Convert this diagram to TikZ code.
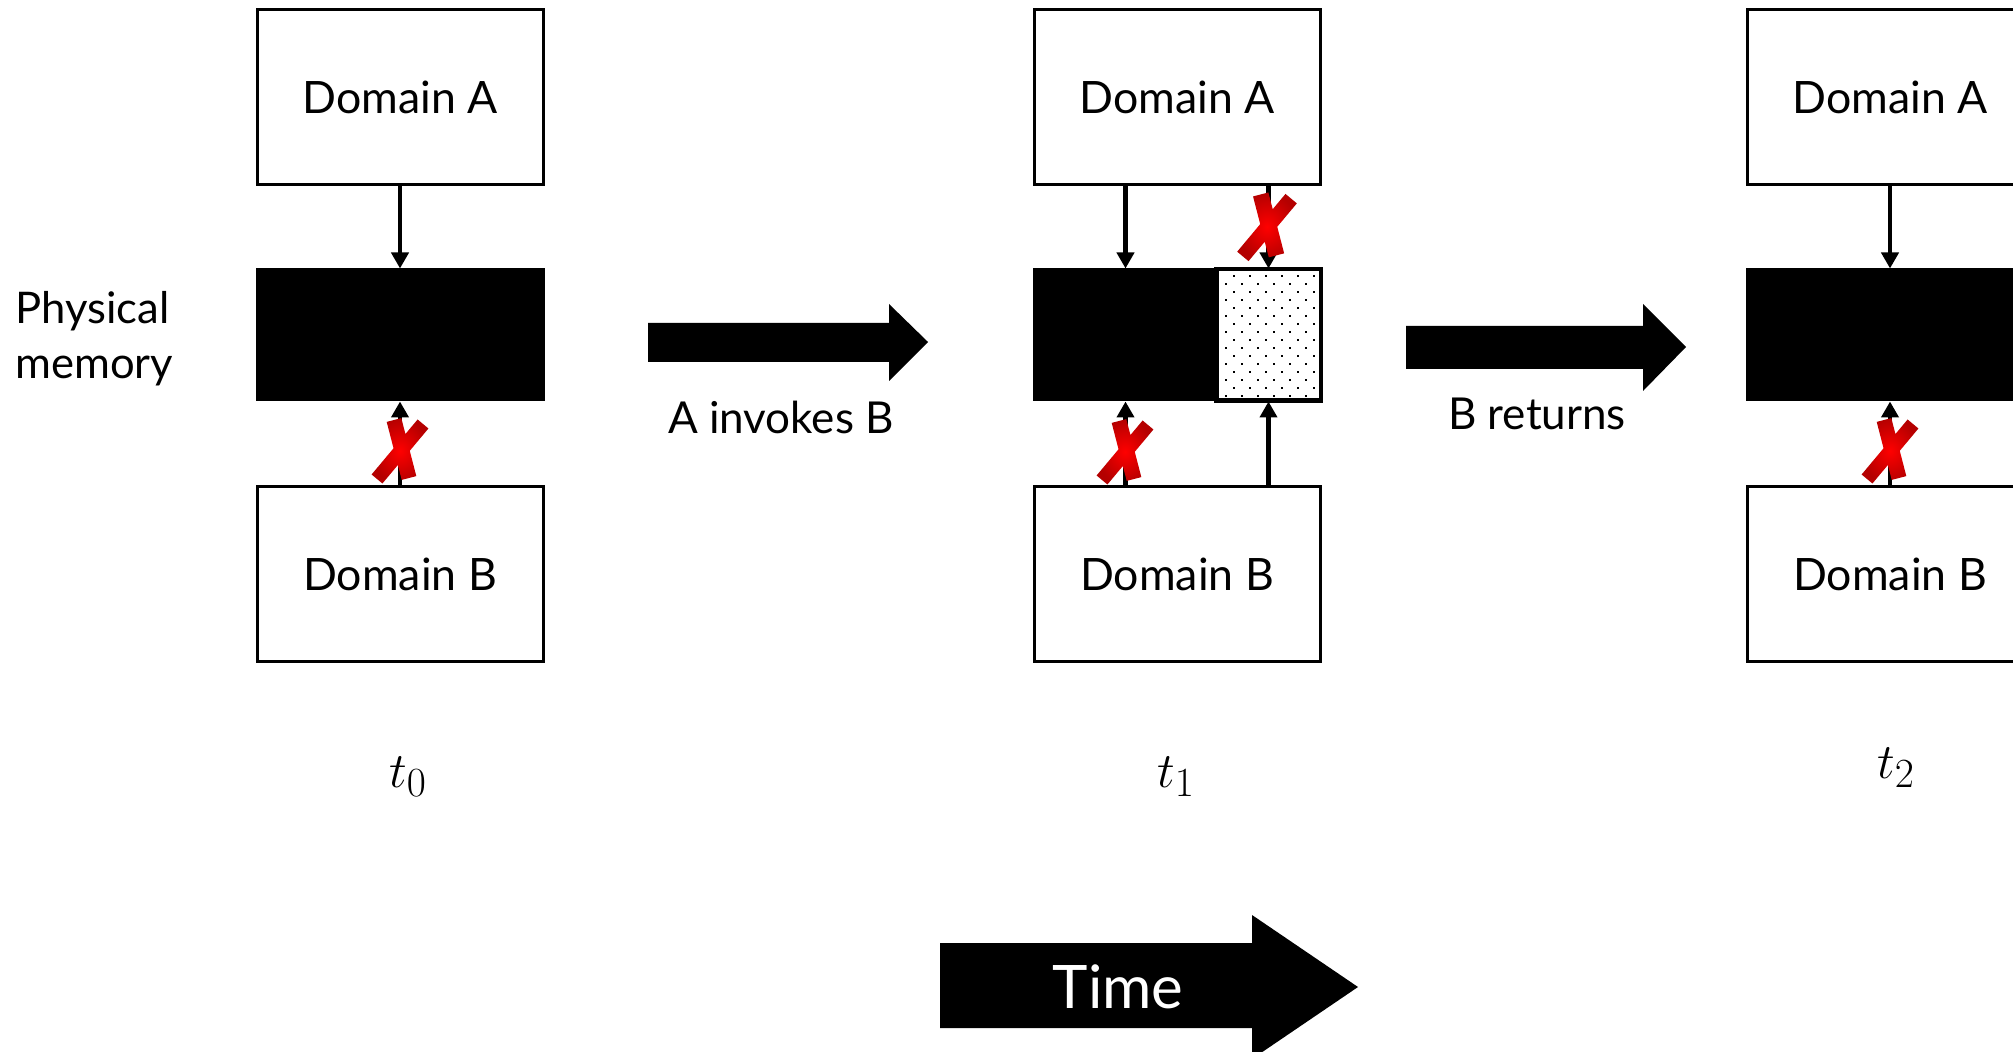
\documentclass[tikz,border=0pt]{standalone}
\usepackage{fontspec}
\setmainfont{Lato}
\usetikzlibrary{arrows.meta}
\definecolor{xred}{RGB}{255,0,0}
\definecolor{xdark}{RGB}{180,0,0}
\begin{document}
\begin{tikzpicture}[x=0.5pt,y=-0.5pt,
  domainbox/.style={draw,line width=1.5pt,fill=white,minimum width=143pt,
    minimum height=87.5pt,inner sep=0pt,font=\fontsize{22.3}{26}\selectfont},
  memblock/.style={draw,line width=1.5pt,fill=black,minimum height=65pt,inner sep=0pt},
  dotblock/.style={draw,line width=1.5pt,fill=white,minimum height=65pt,inner sep=0pt},
  conn/.style={line width=2.2pt,-{Triangle[width=8.5pt,length=8pt]}},
  steplabel/.style={font=\fontsize{22}{26}\selectfont,anchor=base,inner sep=0pt},
  tlabel/.style={font=\fontsize{29}{34}\selectfont,anchor=base,inner sep=0pt},
  nox/.pic={
    \shade[inner color=xred,outer color=xdark]
      (-17.6,32.5) -- (28.4,-22.5) -- (17.6,-31.5) -- (-28.4,23.5) -- cycle
      (1.3,-32.9) -- (-13.3,-29.1) -- (1.7,28.9) -- (16.3,25.1) -- cycle;
  }
]
\useasboundingbox (0,0) rectangle (2013,1052);
\fill[white] (0,0) rectangle (2013,1052);
\clip (0,0) rectangle (2013,1052);

% left label
\node[font=\fontsize{21.8}{27.5}\selectfont,align=left,anchor=west,inner sep=0pt]
  (phys) at (15,339) {Physical\\memory};

% ---- state t0 ----
\node[domainbox] (A0) at (400,97.5) {Domain A};
\node[memblock,minimum width=143pt] (M0) at (400,335) {};
\node[domainbox] (B0) at (400,574) {Domain B};
\draw[conn] (A0) -- (M0);
\draw[conn] (B0) -- (M0);
\pic at (400,451) {nox};
\node[tlabel] (t0) at (408,787) {$t_0$};

% ---- state t1 ----
\node[domainbox] (A1) at (1177,97.5) {Domain A};
\node[memblock,minimum width=91.5pt] (M1) at (1125.5,335) {};
\node[dotblock,minimum width=51.5pt] (D1) at (1268.5,335) {};
\begin{scope}
  \clip (D1.south west) rectangle (D1.north east);
  \foreach \r in {0,...,8}{
    \foreach \c in {0,...,6}{
      \fill (1217+16*\c,275+16*\r) rectangle +(2.2,2.2);
      \fill (1225+16*\c,283+16*\r) rectangle +(2.2,2.2);
    }
  }
\end{scope}
\draw[line width=1.5pt] (D1.north west) rectangle (D1.south east);
\node[domainbox] (B1) at (1177,574) {Domain B};
\draw[conn] (A1.south -| M1.north) -- (M1.north);
\draw[conn] (B1.north -| M1.south) -- (M1.south);
\draw[conn] (A1.south -| D1.north) -- (D1.north);
\draw[conn] (B1.north -| D1.south) -- (D1.south);
\pic at (1125,452) {nox};
\pic[scale=1.05] at (1267,227) {nox};
\node[tlabel] (t1) at (1176,787) {$t_1$};

% ---- state t2 ----
\node[domainbox] (A2) at (1890,97.5) {Domain A};
\node[memblock,minimum width=143pt] (M2) at (1890,335) {};
\node[domainbox] (B2) at (1890,574) {Domain B};
\draw[conn] (A2) -- (M2);
\draw[conn] (B2) -- (M2);
\pic at (1890,451) {nox};
\node[tlabel] (t2) at (1896,778) {$t_2$};

% ---- transitions ----
\fill (648,323) -- (889,323) -- (889,304) -- (928,342) -- (889,381)
  -- (889,362) -- (648,362) -- cycle;
\node[steplabel] (inv) at (781,434) {A invokes B};
\fill (1406,326) -- (1643,326) -- (1643,304) -- (1686,347) -- (1643,391)
  -- (1643,369) -- (1406,369) -- cycle;
\node[steplabel] (ret) at (1537,430) {B returns};

% ---- time axis ----
\fill (940,943) -- (1252,943) -- (1252,915) -- (1358,987) -- (1252,1059)
  -- (1252,1028) -- (940,1028) -- cycle;
\node[font=\fontsize{30}{36}\selectfont,text=white,anchor=base,inner sep=0pt]
  (time) at (1118,1008) {Time};
\end{tikzpicture}
\end{document}
